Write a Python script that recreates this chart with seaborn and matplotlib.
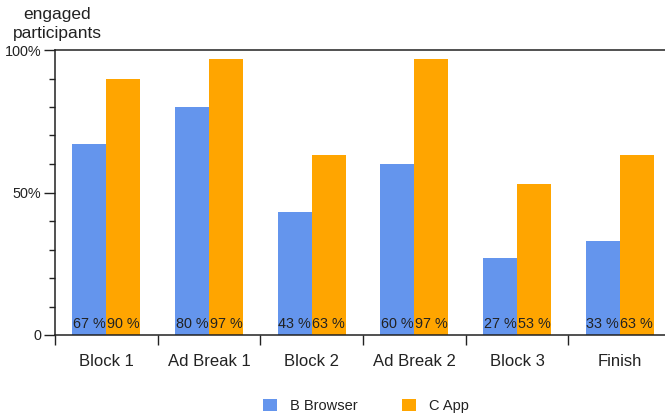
import matplotlib
matplotlib.use("Agg")
import matplotlib.pyplot as plt
from matplotlib.ticker import FixedLocator, MultipleLocator, NullFormatter
import pandas as pd
import seaborn as sns

# Share of engaged participants per segment of the session
segments = ["Block 1", "Ad Break 1", "Block 2", "Ad Break 2", "Block 3", "Finish"]
browser_pct = [67, 80, 43, 60, 27, 33]
app_pct = [90, 97, 63, 97, 53, 63]
series_names = ["B Browser", "C App"]
series_colors = ["#6495ED", "#FFA500"]
y_ticks = [0, 0.5, 1.0]
y_tick_labels = ["0", "50%", "100%"]

df = pd.DataFrame({
    "segment": segments * 2,
    "group": [series_names[0]] * len(segments) + [series_names[1]] * len(segments),
    "pct": browser_pct + app_pct,
})
df["share"] = df["pct"] / 100.0

sns.set_style("white")
plt.rcParams["font.family"] = ["Liberation Sans", "DejaVu Sans"]
text_color = "#222222"

fig = plt.figure(figsize=(6.65, 4.17), dpi=100)
ax = fig.add_axes([55 / 665, 82 / 417, 616 / 665, 285 / 417])

sns.barplot(
    data=df, x="segment", y="share", hue="group",
    order=segments, hue_order=series_names,
    palette=series_colors, width=0.66, saturation=1,
    errorbar=None, linewidth=0, edgecolor="none", ax=ax,
)

# value labels sitting at the bottom of each bar
for container, values in zip(ax.containers, [browser_pct, app_pct]):
    for bar, v in zip(container, values):
        ax.annotate(f"{v} %", xy=(bar.get_x() + bar.get_width() / 2, 0),
                    xytext=(0, 3), textcoords="offset points",
                    ha="center", va="bottom", fontsize=10.4, color=text_color)

ax.set_ylim(0, 1.0)
ax.set_xlim(-0.5, len(segments) - 0.5)
ax.set_xlabel("")
ax.set_ylabel("")

# y axis: labelled major ticks, unlabelled 10% minor ticks
ax.yaxis.set_major_locator(FixedLocator(y_ticks))
ax.set_yticklabels(y_tick_labels)
ax.yaxis.set_minor_locator(MultipleLocator(0.1))
ax.yaxis.set_minor_formatter(NullFormatter())
ax.tick_params(axis="y", which="major", length=8, width=1, color=text_color,
               labelsize=10.4, labelcolor=text_color, pad=2, left=True)
ax.tick_params(axis="y", which="minor", length=4.3, width=1, color=text_color, left=True)
for lbl in ax.get_yticklabels():
    lbl.set_verticalalignment("center_baseline")

# x axis: ticks on category boundaries, labels at category centres
n = len(segments)
ax.xaxis.set_major_locator(FixedLocator([i - 0.5 for i in range(n + 1)]))
ax.xaxis.set_major_formatter(NullFormatter())
ax.xaxis.set_minor_locator(FixedLocator(list(range(n))))
ax.set_xticklabels(segments, minor=True)
ax.tick_params(axis="x", which="major", length=7.5, width=1, color=text_color, bottom=True)
ax.tick_params(axis="x", which="minor", length=0, labelsize=12, labelcolor=text_color, pad=14)

for side in ["left", "bottom", "top", "right"]:
    ax.spines[side].set_visible(True)
    ax.spines[side].set_color(text_color)
    ax.spines[side].set_linewidth(1.1)

fig.text(57 / 665, 1 - 24 / 417, "engaged\nparticipants", ha="center", va="center",
         fontsize=12.5, color=text_color, linespacing=1.4)

handles, labels = ax.get_legend_handles_labels()
if ax.get_legend() is not None:
    ax.get_legend().remove()
fig.legend(handles, labels, loc="center", bbox_to_anchor=(366 / 665, 1 - 406 / 417),
           ncol=2, frameon=False, fontsize=10.5, handlelength=0.95, handleheight=0.95,
           handletextpad=0.9, columnspacing=3.0, labelcolor=text_color)

fig.savefig("out.png", dpi=100)
